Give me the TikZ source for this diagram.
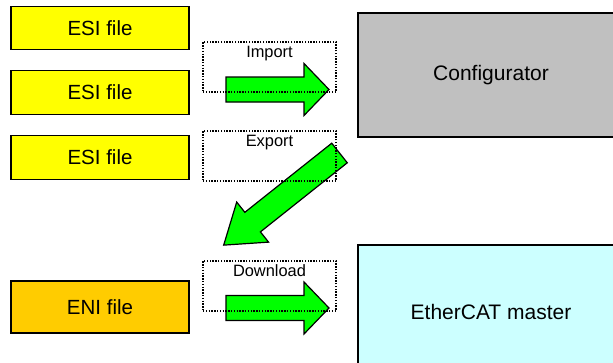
\documentclass[tikz,border=0pt]{standalone}
\usepackage{fontspec}
\setmainfont{Liberation Sans}
\definecolor{esiyellow}{HTML}{FFFF00}
\definecolor{eniorange}{HTML}{FFCC00}
\definecolor{confgray}{HTML}{C0C0C0}
\definecolor{mastercyan}{HTML}{CCFFFF}
\definecolor{arrowgreen}{HTML}{00FF00}
\begin{document}
\begin{tikzpicture}[x=1pt,y=-1pt,
    filebox/.style={draw,line width=1.2pt,minimum width=178pt,font=\fontsize{20.5}{24}\selectfont},
    toolbox/.style={draw,line width=1.2pt,minimum width=266pt,font=\fontsize{21}{25}\selectfont},
    stageframe/.style={draw,line width=1.2pt,dash pattern=on 1.4pt off 1.4pt,minimum width=133pt,minimum height=50pt},
    stagelabel/.style={anchor=base,font=\fontsize{16.4}{19}\selectfont},
    blockarrow/.style={draw,line width=1.2pt,fill=arrowgreen,line join=miter}]
          \useasboundingbox (0,0) rectangle (613,362);
          \clip (0,0) rectangle (613,362);
          % files on the left
          \node[filebox,fill=esiyellow,minimum height=43pt] (esi1) at (100,28) {ESI file};
          \node[filebox,fill=esiyellow,minimum height=44pt] (esi2) at (100,92.5) {ESI file};
          \node[filebox,fill=esiyellow,minimum height=44pt] (esi3) at (100,157.5) {ESI file};
          \node[filebox,fill=eniorange,minimum height=52pt] (eni) at (100,307) {ENI file};
          % tools on the right
          \node[toolbox,fill=confgray,minimum height=124pt] (conf) at (491,75) {Configurator};
          \node[toolbox,fill=mastercyan,minimum height=133pt] (master) at (491,311.5) {EtherCAT master};
          % block arrows
          \draw[blockarrow,shift={(226,89.5)}] (0,-12.5) -- (78,-12.5) -- (78,-26) -- (103,0)
               -- (78,26) -- (78,12.5) -- (0,12.5) -- cycle;
          \draw[blockarrow,shift={(339.5,153)},rotate=218.5] (0,-12.5) -- (111,-12.5) -- (111,-25.6) -- (148,0)
               -- (111,25.6) -- (111,12.5) -- (0,12.5) -- cycle;
          \draw[blockarrow,shift={(226,308)}] (0,-12.5) -- (78,-12.5) -- (78,-26) -- (103,0)
               -- (78,26) -- (78,12.5) -- (0,12.5) -- cycle;
          % dotted frames with their labels
          \node[stageframe] (imp) at (269.5,67) {};
          \node[stageframe] (exp) at (269.5,156) {};
          \node[stageframe] (dwn) at (269.5,286) {};
          \node[stagelabel] (implabel) at ([yshift=-16.5pt]imp.north) {Import};
          \node[stagelabel] (explabel) at ([yshift=-16.5pt]exp.north) {Export};
          \node[stagelabel] (dwnlabel) at ([yshift=-16.5pt]dwn.north) {Download};
        \end{tikzpicture}
\end{document}
